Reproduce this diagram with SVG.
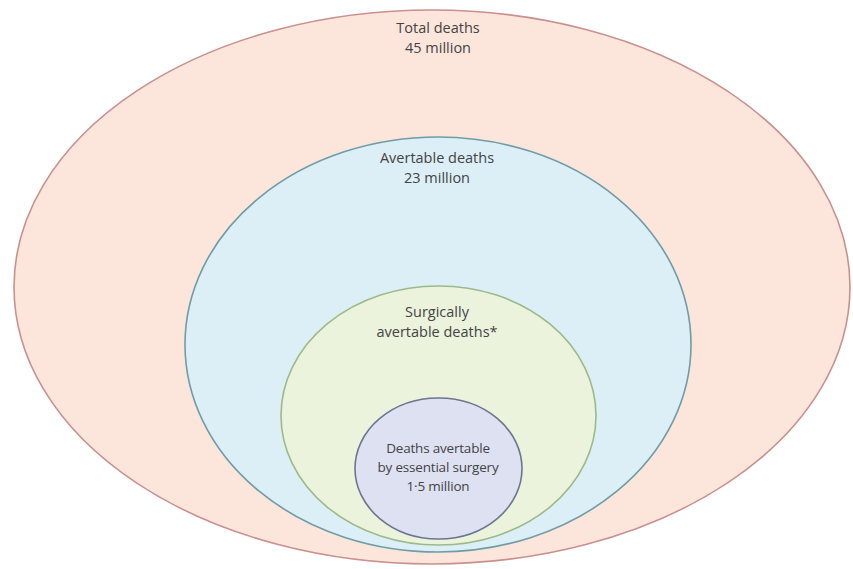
<svg xmlns="http://www.w3.org/2000/svg" width="853" height="569" viewBox="0 0 853 569">
  <style>
    .lbl { font-family: "Open Sans", "Liberation Sans", sans-serif; font-size: 14.5px; fill: #434345; text-anchor: middle; }
    .small { font-size: 13.5px; letter-spacing: -0.2px; }
    .ring { stroke-width: 1.6; }
  </style>
  <rect x="0" y="0" width="853" height="569" fill="#ffffff"/>
  <g id="total">
    <ellipse class="ring" cx="432" cy="287" rx="418" ry="277" fill="#fce6dc" stroke="#c9908f"/>
    <text class="lbl" x="438" y="33">Total deaths</text>
    <text class="lbl" x="438" y="53">45 million</text>
  </g>
  <g id="avertable">
    <ellipse class="ring" cx="438" cy="344.5" rx="253" ry="207.5" fill="#ddeff6" stroke="#6f9ca6"/>
    <text class="lbl" x="437" y="163">Avertable deaths</text>
    <text class="lbl" x="437" y="183">23 million</text>
  </g>
  <g id="surgical">
    <ellipse class="ring" cx="438.5" cy="415.5" rx="157.5" ry="129.5" fill="#ebf3dd" stroke="#9db98a"/>
    <text class="lbl" x="437" y="317">Surgically</text>
    <text class="lbl" x="437" y="337">avertable deaths*</text>
  </g>
  <g id="essential">
    <ellipse class="ring" cx="438.5" cy="468.5" rx="83.5" ry="70.5" fill="#dee1f1" stroke="#6c7690"/>
    <text class="lbl small" x="438" y="453">Deaths avertable</text>
    <text class="lbl small" x="438" y="472">by essential surgery</text>
    <text class="lbl small" x="438" y="491">1·5 million</text>
  </g>
  <g id="connectors"></g>
</svg>
